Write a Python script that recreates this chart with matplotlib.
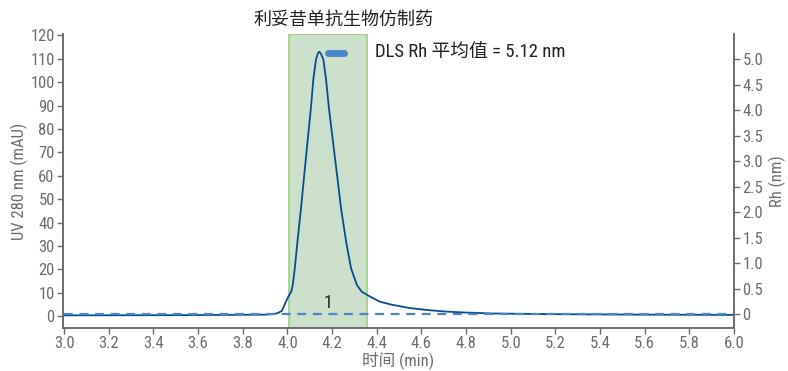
import matplotlib
matplotlib.use("Agg")
import matplotlib.pyplot as plt
from matplotlib import font_manager, transforms

# fonts: narrow latin face first, CJK fallback
names = {f.name for f in font_manager.fontManager.ttflist}
fams = [f for f in ["Liberation Sans Narrow", "Roboto Condensed"] if f in names]
plt.rcParams["font.family"] = fams + ["Noto Sans CJK SC", "DejaVu Sans"]

# UV 280 nm trace (time in min, absorbance in mAU)
t_uv = [3.00, 3.50, 3.90, 3.93, 3.955, 3.975, 3.993, 4.005, 4.017, 4.024,
        4.033, 4.045, 4.061, 4.074, 4.091, 4.106, 4.116, 4.128, 4.136, 4.143,
        4.150, 4.161, 4.173, 4.185, 4.203, 4.224, 4.240, 4.263, 4.285, 4.311,
        4.333, 4.363, 4.415, 4.475, 4.55, 4.624, 4.70, 4.773, 4.92, 5.2,
        5.6, 6.0]
uv = [0.3, 0.4, 0.6, 0.8, 1.2, 2.2, 6.1, 8.5, 10.4, 13.3,
      20.4, 31.8, 46.2, 59.0, 75.4, 89.7, 101.2, 109.7, 112.3, 113.0,
      112.2, 109.7, 101.2, 89.7, 75.4, 59.0, 46.2, 31.8, 20.4, 13.3,
      10.4, 8.7, 6.1, 4.7, 3.4, 2.6, 2.0, 1.6, 1.1, 0.8,
      0.6, 0.5]

# DLS hydrodynamic radius
rh_base_t = [3.0, 6.0]
rh_base = [0.0, 0.0]
rh_t = [4.184, 4.254]
rh = [5.12, 5.12]

peak_window = (4.008, 4.357)
peak_label = "1"
title = "利妥昔单抗生物仿制药"
dls_text = "DLS Rh 平均值 = 5.12 nm"

gray = "#6d6d6d"

fig = plt.figure(figsize=(7.88, 3.71), dpi=100)
ax = fig.add_axes([63/788, 1-328/371, (734-63)/788, (328-34)/371])
ax2 = ax.twinx()

ax.axvspan(*peak_window, facecolor="#cce0cc", edgecolor="#9dcf7f", lw=1.2, zorder=0)
ax.plot(t_uv, uv, color="#0a4d8c", lw=1.3, zorder=3)
ax2.plot(rh_base_t, rh_base, color="#4a86c8", lw=1.6, ls=(0, (4, 3)), zorder=2)
ax2.plot(rh_t, rh, color="#4a86c8", lw=5, solid_capstyle="round", zorder=4)

ax.set_xlim(2.995, 6.0)
ax.set_ylim(-5.1, 120.6)
ax2.set_ylim(-0.275, 5.5)

ax.set_xticks([3.0 + 0.2*i for i in range(16)])
ax.set_xticklabels([f"{3.0 + 0.2*i:.1f}" for i in range(16)])
ax.set_yticks(range(0, 121, 10))
ax2.set_yticks([0.5*i for i in range(11)])
ax2.set_yticklabels(["0"] + [f"{0.5*i:.1f}" for i in range(1, 11)])

for a in (ax, ax2):
    a.spines["top"].set_visible(False)
    for s in ("left", "right", "bottom"):
        a.spines[s].set_color(gray)
        a.spines[s].set_linewidth(1.2)
    a.tick_params(colors=gray, labelcolor=gray, labelsize=12, length=4, width=1, pad=2)

ax.set_xlabel("时间 (min)", color=gray, fontsize=12, labelpad=0)
ax.set_ylabel("UV 280 nm (mAU)", color=gray, fontsize=12, labelpad=2)
ax2.set_ylabel("Rh (nm)", color=gray, fontsize=12, labelpad=4)

ax.text(4.18, 5.5, peak_label, ha="center", va="center", fontsize=13, color="#222222")
ax.text(4.25, 1 - 20/371, title,
        transform=transforms.blended_transform_factory(ax.transData, fig.transFigure),
        ha="center", va="center", fontsize=13, color="#222222")
ax.text(4.393, 113, dls_text, ha="left", va="center", fontsize=13.5, color="#222222")

fig.savefig("out.png", dpi=100)
